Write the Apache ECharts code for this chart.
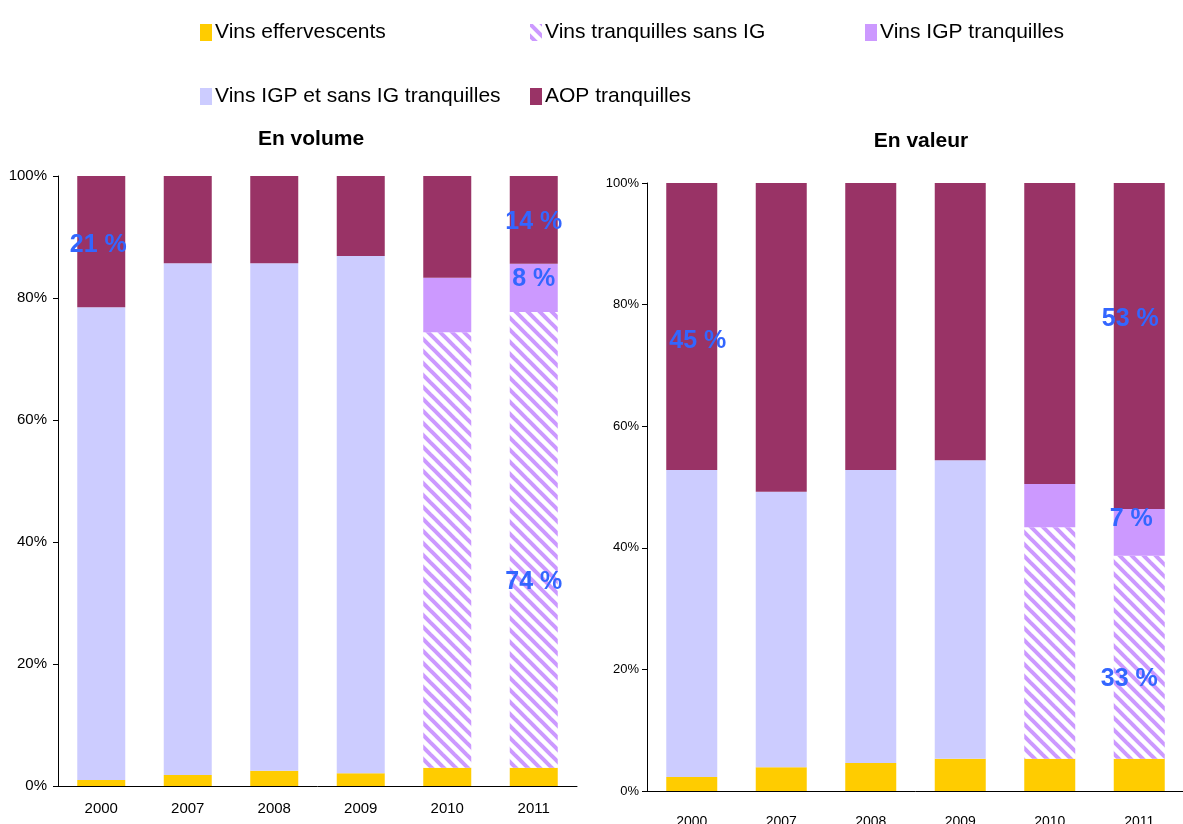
<!DOCTYPE html>
<html>
<head>
<meta charset="utf-8">
<script src="https://cdn.jsdelivr.net/npm/echarts@6/dist/echarts.min.js"></script>
<style>
  html, body { margin: 0; padding: 0; background: #fff; }
  #main { width: 1183px; height: 824px; }
</style>
</head>
<body>
<div id="main"></div>
<script>
// categories
var years = ['2000', '2007', '2008', '2009', '2010', '2011'];

// En volume (% share, stacked bottom to top)
var volEffervescents = [1.0, 1.8, 2.5, 2.1, 3.0, 3.0];
var volSansIG        = [null, null, null, null, 71.4, 74.7];
var volIGP           = [null, null, null, null, 8.9, 7.9];
var volIGPetSansIG   = [77.5, 83.9, 83.2, 84.8, null, null];
var volAOP           = [21.5, 14.3, 14.3, 13.1, 16.7, 14.4];

// En valeur
var valEffervescents = [2.3, 3.9, 4.6, 5.3, 5.3, 5.3];
var valSansIG        = [null, null, null, null, 38.1, 33.4];
var valIGP           = [null, null, null, null, 7.1, 7.7];
var valIGPetSansIG   = [50.5, 45.3, 48.2, 49.1, null, null];
var valAOP           = [47.2, 50.8, 47.2, 45.6, 49.5, 53.6];

var yTicks = [0, 20, 40, 60, 80, 100];

// annotation texts: [series name, year index, text]
var volNotes = [
  ['AOP tranquilles', 0, '21 %'],
  ['AOP tranquilles', 5, '14 %'],
  ['Vins IGP tranquilles', 5, '8 %'],
  ['Vins tranquilles sans IG', 5, '74 %']
];
var valNotes = [
  ['AOP tranquilles', 0, '45 %'],
  ['AOP tranquilles', 5, '53 %'],
  ['Vins IGP tranquilles', 5, '7 %'],
  ['Vins tranquilles sans IG', 5, '33 %']
];
// label nudges (layout only)
var volNudge = [[-3, 4], [0, 2], [0, -9], [0, 42]];
var valNudge = [[6, 15], [-9, -27], [-8, -13], [-10, 22]];

var names = ['Vins effervescents', 'Vins tranquilles sans IG', 'Vins IGP tranquilles',
             'Vins IGP et sans IG tranquilles', 'AOP tranquilles'];

// hatch pattern for "sans IG"
function makeHatch() {
  var c = document.createElement('canvas');
  c.width = 12; c.height = 12;
  var g = c.getContext('2d');
  g.fillStyle = '#ffffff';
  g.fillRect(0, 0, 12, 12);
  g.strokeStyle = '#CC99FF';
  g.lineWidth = 4;
  for (var k = -1; k <= 1; k++) {
    g.beginPath();
    g.moveTo(k * 12 - 2, -2);
    g.lineTo(k * 12 + 14, 14);
    g.stroke();
  }
  return c;
}
var hatch = { image: makeHatch(), repeat: 'repeat' };
var colors = ['#FFCC00', hatch, '#CC99FF', '#CCCCFF', '#993366'];

var font = '"Liberation Sans", Arial, sans-serif';

function buildSeries(arrays, notes, nudges, axisIdx, barWidth) {
  return arrays.map(function (arr, si) {
    var data = arr.map(function (v, i) {
      var item = { value: v };
      notes.forEach(function (n, ni) {
        if (n[0] === names[si] && n[1] === i) {
          item.label = {
            show: true,
            formatter: n[2],
            position: 'inside',
            offset: nudges[ni],
            color: '#3366FF',
            fontWeight: 'bold',
            fontSize: 25,
            fontFamily: font
          };
        }
      });
      return item;
    });
    return {
      name: names[si],
      type: 'bar',
      stack: 'total' + axisIdx,
      xAxisIndex: axisIdx,
      yAxisIndex: axisIdx,
      barWidth: barWidth,
      color: colors[si],
      itemStyle: { color: colors[si] },
      label: { show: false },
      emphasis: { disabled: true },
      data: data
    };
  });
}

var volSeries = buildSeries([volEffervescents, volSansIG, volIGP, volIGPetSansIG, volAOP], volNotes, volNudge, 0, 48);
var valSeries = buildSeries([valEffervescents, valSansIG, valIGP, valIGPetSansIG, valAOP], valNotes, valNudge, 1, 51);

function legendAt(name, left, top) {
  return {
    data: [name],
    left: left,
    top: top,
    icon: 'rect',
    itemWidth: 12,
    itemHeight: 17,
    itemGap: 5,
    selectedMode: false,
    textStyle: { fontSize: 21, color: '#000', fontFamily: font, padding: [0, 0, 0, -2] }
  };
}

var chart = echarts.init(document.getElementById('main'));
chart.setOption({
  animation: false,
  backgroundColor: '#fff',
  title: [
    { text: 'En volume', left: 306, top: 124, textAlign: 'center',
      textStyle: { fontSize: 21, fontWeight: 'bold', color: '#000', fontFamily: font } },
    { text: 'En valeur', left: 916, top: 126, textAlign: 'center',
      textStyle: { fontSize: 21, fontWeight: 'bold', color: '#000', fontFamily: font } }
  ],
  legend: [
    legendAt(names[0], 195, 17),
    legendAt(names[1], 525, 17),
    legendAt(names[2], 860, 17),
    legendAt(names[3], 195, 81),
    legendAt(names[4], 525, 81)
  ],
  grid: [
    { left: 58, top: 176, width: 519, height: 610, outerBoundsMode: 'none' },
    { left: 647, top: 183, width: 537, height: 608, outerBoundsMode: 'none' }
  ],
  xAxis: [
    {
      type: 'category', gridIndex: 0, data: years,
      axisLine: { lineStyle: { color: '#000', width: 1 } },
      axisTick: { length: 5, lineStyle: { color: '#000' } },
      axisLabel: { color: '#000', fontSize: 15, margin: 15, fontFamily: font }
    },
    {
      type: 'category', gridIndex: 1, data: years,
      axisLine: { lineStyle: { color: '#000', width: 1 } },
      axisTick: { length: 5, lineStyle: { color: '#000' } },
      axisLabel: { color: '#000', fontSize: 14, margin: 24, fontFamily: font }
    }
  ],
  yAxis: [0, 1].map(function (gi) {
    return {
      type: 'value', gridIndex: gi, min: yTicks[0], max: yTicks[yTicks.length - 1], interval: 20,
      axisLine: { show: true, lineStyle: { color: '#000', width: 1 } },
      axisTick: { show: true, length: 5, lineStyle: { color: '#000' } },
      splitLine: { show: false },
      axisLabel: { color: '#000', fontSize: gi === 0 ? 15 : 13, margin: gi === 0 ? 11 : 8,
                   fontFamily: font, formatter: '{value}%' }
    };
  }),
  series: volSeries.concat(valSeries)
});
</script>
</body>
</html>
